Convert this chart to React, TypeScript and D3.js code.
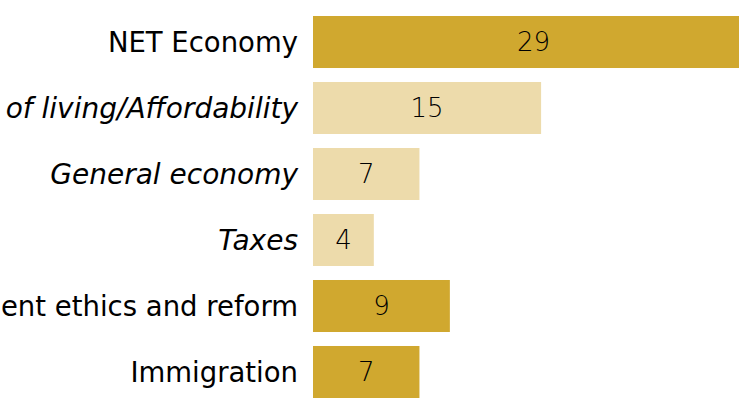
import { scaleBand, scaleLinear } from 'd3'
import { useEffect } from 'react'

const categories = [
  'NET Economy',
  'Cost of living/Affordability',
  'General economy',
  'Taxes',
  'Government ethics and reform',
  'Immigration',
]
const values = [29, 15, 7, 4, 9, 7]
// sub-items of the economy net are set in italic, lighter bars
const isSubItem = [false, true, true, true, false, false]

const width = 739
const height = 415
const barLeft = 313
const labelGap = 15

const darkGold = '#d0a82f'
const lightGold = '#eddbab'

const App = () => {
  useEffect(() => {
    document.body.style.margin = '0'
  }, [])

  const x = scaleLinear().domain([0, 29]).range([0, 441])
  const y = scaleBand<string>()
    .domain(categories)
    .range([16, 398])
    .paddingInner(0.212)
    .paddingOuter(0)

  return (
    <svg width={width} height={height} style={{ display: 'block', fontFamily: '"DejaVu Sans", sans-serif' }}>
      {categories.map((name, i) => {
        const top = y(name) ?? 0
        const bw = y.bandwidth()
        const w = x(values[i])
        return (
          <g key={name} transform={`translate(0, ${top})`}>
            <text
              x={barLeft - labelGap}
              y={bw / 2}
              dy="0.36em"
              textAnchor="end"
              fontSize={isSubItem[i] ? 28 : 27.5}
              fontStyle={isSubItem[i] ? 'italic' : 'normal'}
              fill="#000"
            >
              {name}
            </text>
            <rect x={barLeft} width={w} height={bw} fill={isSubItem[i] ? lightGold : darkGold} />
            <text
              x={barLeft + w / 2}
              y={bw / 2}
              dy="0.36em"
              textAnchor="middle"
              fontSize={26}
              fontWeight={200}
              fill="#000"
            >
              {values[i]}
            </text>
          </g>
        )
      })}
    </svg>
  )
}

export default App
